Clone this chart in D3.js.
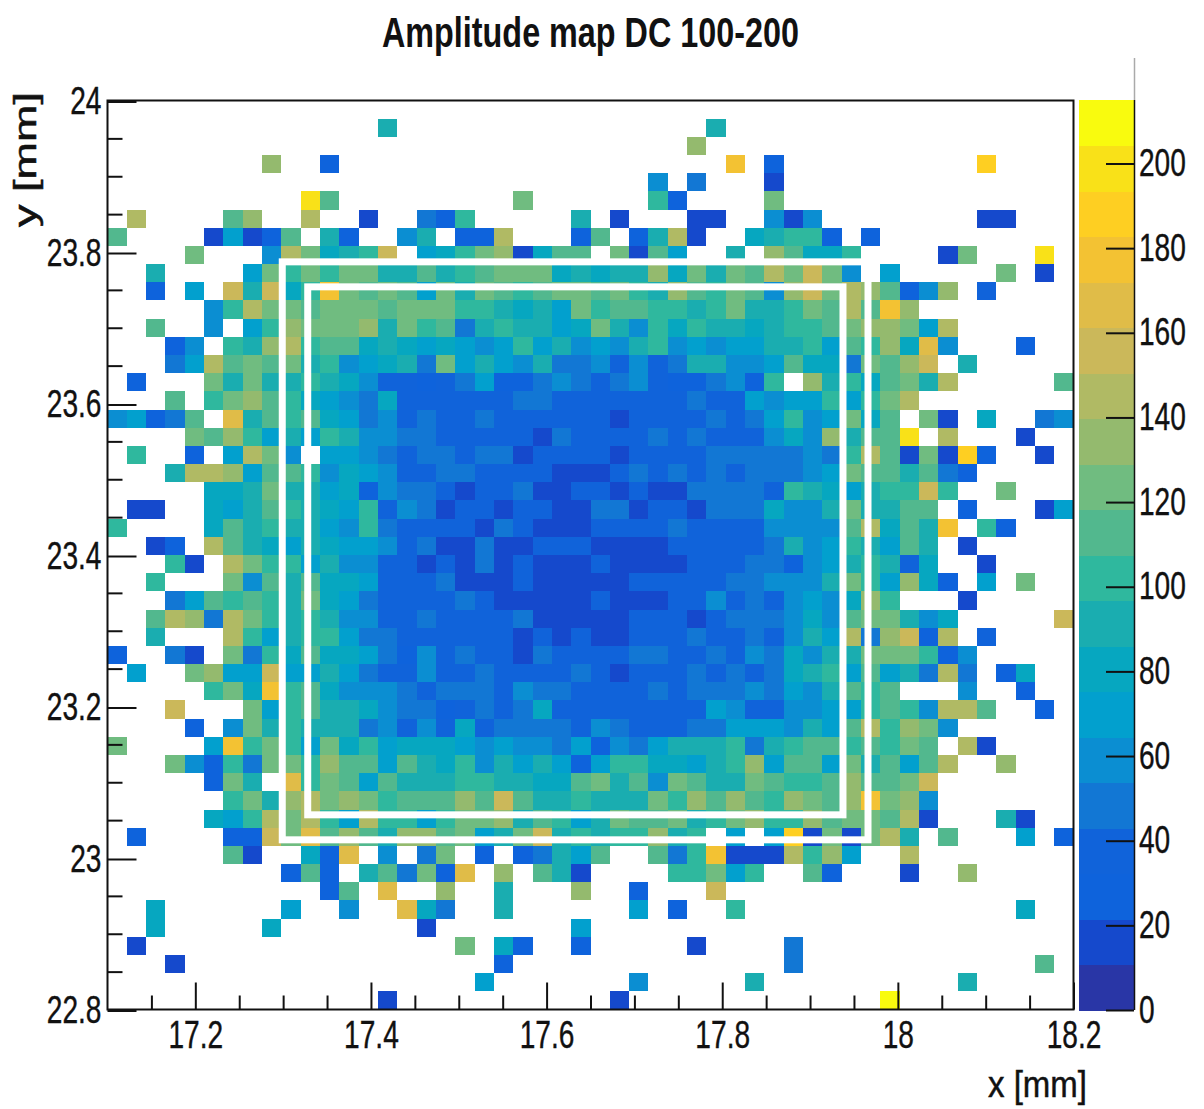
<!DOCTYPE html>
<html>
<head>
<meta charset="utf-8">
<script src="https://cdnjs.cloudflare.com/ajax/libs/d3/7.8.5/d3.min.js"></script>
<style>
  body { margin: 0; background: #fff; }
  text { font-family: "Liberation Sans", sans-serif; fill: #111; }
</style>
</head>
<body>
<div id="chart"></div>
<script>
// bin layout of the map
const xRange = [17.1, 18.2]
const yRange = [22.8, 24]
const binCount = 50
const zMax = 215

const xMajor = [17.2, 17.4, 17.6, 17.8, 18, 18.2]
const xMinor = [17.15, 17.25, 17.3, 17.35, 17.45, 17.5, 17.55, 17.65, 17.7, 17.75, 17.85, 17.9, 17.95, 18.05, 18.1, 18.15]
const yMajor = [22.8, 23, 23.2, 23.4, 23.6, 23.8, 24]
const yMinor = [22.85, 22.9, 22.95, 23.05, 23.1, 23.15, 23.25, 23.3, 23.35, 23.45, 23.5, 23.55, 23.65, 23.7, 23.75, 23.85, 23.9, 23.95]
const zTicks = [0, 20, 40, 60, 80, 100, 120, 140, 160, 180, 200]

// white boxes: [x0, x1, y0, y1] in mm
const outerBox = [17.299, 17.966, 23.024, 23.787]
const innerBox = [17.328, 17.9375, 23.057, 23.754]

const palette = ["#2936A6", "#1549CC", "#0E63DC", "#1063DA", "#1277D4", "#0B8ED2", "#02A0CE", "#06A7C0", "#1AADB0", "#2FB89E",
                 "#52B88E", "#70BC80", "#94BA6E", "#B0BA64", "#CBB85A", "#E0BC48", "#F3C233", "#FECF22", "#F9E118", "#F9FB0E"]

// amplitude per bin, top row (y = 24) first, 0 = empty bin
const amplitude = [
[0,0,0,0,0,0,0,0,0,0, 0,0,0,0,0,0,0,0,0,0, 0,0,0,0,0,0,0,0,0,0, 0,0,0,0,0,0,0,0,0,0, 0,0,0,0,0,0,0,0,0,0],
[0,0,0,0,0,0,0,0,0,0, 0,0,0,0,91,0,0,0,0,0, 0,0,0,0,0,0,0,0,0,0, 0,91,0,0,0,0,0,0,0,0, 0,0,0,0,0,0,0,0,0,0],
[0,0,0,0,0,0,0,0,0,0, 0,0,0,0,0,0,0,0,0,0, 0,0,0,0,0,0,0,0,0,0, 134,0,0,0,0,0,0,0,0,0, 0,0,0,0,0,0,0,0,0,0],
[0,0,0,0,0,0,0,0,134,0, 0,27,0,0,0,0,0,0,0,0, 0,0,0,0,0,0,0,0,0,0, 0,0,178,0,27,0,0,0,0,0, 0,0,0,0,0,188,0,0,0,0],
[0,0,0,0,0,0,0,0,0,0, 0,0,0,0,0,0,0,0,0,0, 0,0,0,0,0,0,0,0,59,0, 48,0,0,0,16,0,0,0,0,0, 0,0,0,0,0,0,0,0,0,0],
[0,0,0,0,0,0,0,0,0,0, 199,113,0,0,0,0,0,0,0,0, 0,124,0,0,0,0,0,0,102,27, 0,0,0,0,124,0,0,0,0,0, 0,0,0,0,0,0,0,0,0,0],
[0,145,0,0,0,0,113,134,0,0, 145,0,0,16,0,0,48,27,102,0, 0,0,0,0,91,0,16,0,0,0, 16,16,0,0,59,16,59,0,0,0, 0,0,0,0,0,16,16,0,0,0],
[113,0,0,0,0,16,70,16,27,113, 0,91,27,0,0,59,91,0,27,27, 145,0,0,0,27,113,0,27,91,145, 16,0,0,80,91,102,102,27,0,27, 0,0,0,0,0,0,0,0,0,0],
[0,0,0,0,124,0,0,0,59,145, 124,80,91,102,156,0,70,80,102,124, 134,16,80,113,113,0,124,16,113,70, 0,0,91,0,134,113,80,80,102,0, 0,0,0,16,124,0,0,0,199,0],
[0,0,91,0,0,0,0,70,124,102, 124,102,124,124,91,91,113,91,102,113, 124,124,124,80,91,80,91,91,134,80, 124,91,124,113,145,124,156,124,59,0, 70,0,0,0,0,0,124,0,16,0],
[0,0,27,0,70,0,156,91,156,80, 102,178,124,113,124,113,70,124,91,124, 113,102,113,124,124,113,124,102,91,134, 113,102,124,113,59,134,156,124,145,134, 113,27,59,134,0,38,0,0,0,0],
[0,0,0,0,0,59,102,145,124,124, 113,124,124,124,113,124,124,124,102,102, 91,80,91,70,124,102,113,113,102,102, 91,102,124,91,91,102,124,113,145,113, 178,134,0,0,0,0,0,0,0,0],
[0,0,113,0,0,59,0,70,102,134, 124,124,124,134,91,124,102,113,48,91, 102,91,91,70,80,124,91,59,102,80, 102,91,91,80,91,102,102,113,124,134, 134,124,70,145,0,0,0,0,0,0],
[0,0,0,27,59,0,102,91,134,145, 102,113,113,80,91,80,70,80,70,59, 70,102,70,91,59,70,59,91,102,59, 70,59,70,70,91,91,102,70,113,102, 134,80,167,59,0,0,0,27,0,0],
[0,0,0,48,70,145,113,124,113,124, 91,102,59,70,80,91,48,124,70,91, 70,59,91,48,48,59,38,59,38,48, 91,91,59,59,70,113,80,80,48,124, 113,134,156,0,91,0,0,0,0,0],
[0,27,0,0,0,124,91,124,91,91, 102,91,80,59,38,38,27,38,48,70, 27,27,48,59,48,38,48,59,38,27, 27,48,59,27,102,0,134,91,102,80, 113,124,91,145,0,0,0,0,0,113],
[0,0,0,113,0,102,124,134,113,102, 80,70,59,48,80,38,38,38,38,38, 38,48,48,38,38,38,38,38,38,38, 48,38,38,70,59,70,70,102,70,102, 124,145,0,0,0,0,0,0,0,0],
[59,70,27,48,113,0,167,91,113,102, 113,80,70,48,59,38,48,38,38,48, 38,38,38,38,38,38,16,38,38,38, 38,48,38,48,70,102,59,70,124,80, 113,0,124,16,0,80,0,0,48,59],
[0,0,0,0,124,113,134,102,70,91, 70,102,91,59,59,48,48,38,38,38, 38,38,16,48,38,38,38,38,48,38, 48,38,38,38,59,80,59,134,91,113, 113,199,0,145,0,0,0,16,0,0],
[0,102,0,0,27,0,70,145,124,59, 0,70,70,59,48,38,48,48,38,48, 48,16,38,38,38,38,16,38,38,38, 38,48,48,48,48,48,59,48,102,145, 113,16,124,16,188,27,0,0,16,0],
[0,0,0,91,145,145,134,70,113,113, 102,59,80,70,59,38,38,48,48,38, 38,38,38,16,16,16,38,48,38,48, 38,48,38,48,48,48,59,70,124,113, 113,91,113,48,27,0,0,0,0,0],
[0,0,0,0,0,80,80,91,124,91, 91,70,80,27,59,48,48,38,16,38, 38,48,16,16,38,38,16,38,16,16, 48,48,48,48,38,102,91,80,70,91, 102,102,156,102,0,0,124,0,0,0],
[0,16,16,0,0,80,70,91,113,102, 91,80,70,102,38,59,48,16,38,38, 16,38,38,16,16,48,48,16,38,38, 16,48,48,48,80,59,59,91,124,91, 91,113,113,0,27,0,0,0,16,70],
[102,0,0,0,0,80,113,91,102,91, 91,70,59,102,48,38,38,38,38,16, 48,38,16,16,16,38,38,38,38,48, 38,38,38,38,59,59,59,59,113,145, 80,113,91,178,0,102,27,0,0,0],
[0,0,16,27,0,145,113,91,80,70, 91,80,70,70,59,38,48,16,16,48, 16,16,38,38,38,16,16,16,16,38, 38,38,38,38,48,91,59,70,102,91, 70,113,91,0,16,0,0,0,0,0],
[0,0,0,102,16,0,145,124,102,102, 70,91,59,59,38,38,16,38,16,48, 16,38,16,16,16,38,16,16,16,16, 38,38,38,48,48,27,59,70,91,102, 91,38,80,0,0,16,0,0,0,0],
[0,0,102,0,0,0,124,59,113,91, 113,80,80,70,38,38,38,48,16,16, 16,38,16,16,16,16,16,38,38,38, 38,38,48,48,59,59,59,91,124,102, 70,134,80,27,0,70,0,124,0,0],
[0,0,0,48,70,113,102,113,102,91, 124,80,70,48,38,38,38,38,48,38, 16,16,16,16,16,38,16,16,16,38, 38,59,38,48,38,59,70,59,80,134, 102,0,0,0,16,0,0,0,0,0],
[0,0,113,145,134,48,145,124,102,91, 102,91,59,59,38,38,48,38,38,38, 38,48,16,16,16,16,16,38,38,38, 16,38,48,48,48,59,80,59,113,124, 124,91,59,80,0,0,0,0,0,156],
[0,0,91,0,0,0,145,102,70,91, 102,102,70,48,48,38,38,38,38,38, 38,16,38,16,38,16,16,38,38,38, 48,38,38,48,38,59,91,70,145,48, 134,156,27,145,0,38,0,0,0,0],
[27,0,0,48,16,0,124,48,102,80, 113,80,80,70,48,27,59,38,48,38, 38,16,48,38,38,38,38,48,48,38, 38,48,38,59,48,80,59,91,91,124, 124,124,102,27,59,0,0,0,0,0],
[0,70,0,0,124,134,70,70,156,70, 70,91,70,48,38,38,59,38,38,48, 38,38,38,38,48,38,16,38,38,38, 48,38,48,38,48,80,91,102,70,113, 70,91,48,145,48,0,27,80,0,0],
[0,0,0,0,0,102,124,80,178,102, 113,80,59,59,59,48,38,48,48,48, 38,59,48,48,38,38,38,38,48,38, 48,48,48,59,48,70,59,91,113,102, 113,0,0,0,59,0,0,27,0,0],
[0,0,0,156,0,0,0,124,70,102, 113,91,91,80,59,48,48,27,38,48, 38,48,80,38,38,38,38,38,38,38, 38,70,59,38,38,59,59,70,70,102, 113,102,59,145,145,113,0,0,27,0],
[0,0,0,0,27,0,59,124,91,102, 91,91,91,48,59,38,59,38,80,38, 48,48,48,48,38,59,48,38,38,38, 48,48,70,70,70,59,91,70,113,145, 102,134,124,59,0,0,0,0,0,0],
[124,0,0,0,0,70,178,102,124,102, 70,124,80,102,70,80,80,80,70,59, 70,59,59,48,70,27,59,48,70,91, 91,91,102,48,91,102,113,113,102,113, 102,124,113,0,145,16,0,0,0,0],
[0,0,0,124,59,27,102,48,124,124, 102,134,113,113,70,113,91,80,102,59, 91,70,91,70,27,70,102,102,80,80, 70,91,102,134,70,113,113,70,124,91, 113,70,113,145,0,0,134,0,0,0],
[0,0,0,0,0,27,124,91,0,167, 102,124,113,70,113,91,91,91,102,102, 91,91,80,80,113,124,91,113,59,124, 113,91,91,124,113,102,102,113,134,113, 113,124,156,0,0,0,0,0,0,0],
[0,0,0,0,0,0,102,124,91,134, 145,124,134,124,102,113,113,113,134,113, 156,113,91,91,102,91,91,91,124,102, 134,113,134,113,102,134,124,113,134,178, 124,134,59,0,0,0,0,0,0,0],
[0,0,0,0,0,80,70,102,145,124, 145,102,70,145,102,102,70,102,124,124, 134,91,113,102,70,91,124,113,113,124, 91,102,124,134,102,102,134,113,124,124, 113,145,16,0,0,0,91,16,0,0],
[0,27,0,0,0,0,27,27,156,124, 167,113,134,113,91,134,134,113,124,70, 91,124,156,91,102,91,102,102,134,91, 102,0,70,0,70,188,16,124,16,124, 145,91,0,113,0,0,0,70,0,27],
[0,0,0,0,0,0,113,16,0,0, 80,27,167,0,59,0,48,124,0,27, 0,27,48,91,70,113,0,0,113,48, 102,178,16,16,16,145,102,134,70,0, 0,145,0,0,0,0,0,0,0,0],
[0,0,0,0,0,0,0,0,0,27, 113,27,0,91,113,48,124,27,167,0, 134,0,113,91,16,0,0,0,0,102, 102,124,70,102,0,0,113,27,0,0, 0,16,0,0,134,0,0,0,0,0],
[0,0,0,0,0,0,0,0,0,0, 0,27,113,0,167,0,0,134,0,0, 91,0,0,0,134,0,0,27,0,0, 0,156,0,0,0,0,0,0,0,0, 0,0,0,0,0,0,0,0,0,0],
[0,0,80,0,0,0,0,0,0,70, 0,0,59,0,0,167,80,48,0,0, 91,0,0,0,0,0,0,70,0,27, 0,0,102,0,0,0,0,0,0,0, 0,0,0,0,0,0,0,80,0,0],
[0,0,80,0,0,0,0,0,80,0, 0,0,0,0,0,0,16,0,0,0, 0,0,0,0,70,0,0,0,0,0, 0,0,0,0,0,0,0,0,0,0, 0,0,0,0,0,0,0,0,0,0],
[0,16,0,0,0,0,0,0,0,0, 0,0,0,0,0,0,0,0,124,0, 80,27,0,0,27,0,0,0,0,0, 16,0,0,0,0,48,0,0,0,0, 0,0,0,0,0,0,0,0,0,0],
[0,0,0,16,0,0,0,0,0,0, 0,0,0,0,0,0,0,0,0,0, 27,0,0,0,0,0,0,0,0,0, 0,0,0,0,0,48,0,0,0,0, 0,0,0,0,0,0,0,0,113,0],
[0,0,0,0,0,0,0,0,0,0, 0,0,0,0,0,0,0,0,0,70, 0,0,0,0,0,0,0,59,0,0, 0,0,0,91,0,0,0,0,0,0, 0,0,0,0,91,0,0,0,0,0],
[0,0,0,0,0,0,0,0,0,0, 0,0,0,0,16,0,0,0,0,0, 0,0,0,0,0,0,16,0,0,0, 0,0,0,0,0,0,0,0,0,0, 210,0,0,0,0,0,0,0,0,0]
]

const width = 1204
const height = 1109
const squeeze = 0.74   // the source picture has narrow glyphs

let svg = d3.select("#chart").append("svg")
    .attr("width", width)
    .attr("height", height)

let x = d3.scaleLinear().domain(xRange).range([107.5, 1073.5])
let y = d3.scaleLinear().domain(yRange).range([1009.5, 100.5])
let z = d3.scaleLinear().domain([0, zMax]).range([1010, 100])
let color = d3.scaleQuantize().domain([0, zMax]).range(palette)

let xBin = (xRange[1] - xRange[0]) / binCount
let yBin = (yRange[1] - yRange[0]) / binCount

// cells
let cells = []
amplitude.forEach((row, r) => row.forEach((v, c) => {
    if (v > 0) cells.push({r: r, c: c, v: v})
}))

svg.append("g")
    .attr("shape-rendering", "crispEdges")
    .selectAll("rect")
    .data(cells)
    .enter()
    .append("rect")
    .attr("x", d => x(xRange[0] + d.c * xBin))
    .attr("y", d => y(yRange[1] - d.r * yBin))
    .attr("width", x(xRange[0] + xBin) - x(xRange[0]))
    .attr("height", y(yRange[1] - yBin) - y(yRange[1]))
    .style("fill", d => color(d.v))

// white boxes
svg.append("g")
    .selectAll("rect")
    .data([outerBox, innerBox])
    .enter()
    .append("rect")
    .attr("x", d => x(d[0]))
    .attr("y", d => y(d[3]))
    .attr("width", d => x(d[1]) - x(d[0]))
    .attr("height", d => y(d[2]) - y(d[3]))
    .style("fill", "none")
    .style("stroke", "#fff")
    .style("stroke-width", 7)

// plot frame
svg.append("rect")
    .attr("x", x.range()[0])
    .attr("y", y.range()[1])
    .attr("width", x.range()[1] - x.range()[0])
    .attr("height", y.range()[0] - y.range()[1])
    .style("fill", "none")
    .style("stroke", "#111")
    .style("stroke-width", 2)

function styleAxis(g, textX) {
    g.select(".domain").remove()
    g.selectAll("line").style("stroke", "#111").style("stroke-width", 2)
    g.selectAll("text")
        .style("font-size", "38px")
        .style("stroke", "#111")
        .style("stroke-width", 0.4)
        .attr("transform", `scale(${squeeze},1)`)
    if (textX !== null) g.selectAll("text").attr("x", textX / squeeze)
}

// minor ticks, then major ticks with labels
svg.append("g")
    .attr("transform", `translate(0,${y.range()[0]})`)
    .call(d3.axisBottom(x).tickValues(xMinor).tickSize(-14).tickFormat(""))
    .call(styleAxis, null)
svg.append("g")
    .attr("transform", `translate(0,${y.range()[0]})`)
    .call(d3.axisBottom(x).tickValues(xMajor).tickSize(-27).tickPadding(12).tickFormat(d => d))
    .call(styleAxis, null)
svg.append("g")
    .attr("transform", `translate(${x.range()[0]},0)`)
    .call(d3.axisLeft(y).tickValues(yMinor).tickSize(-15).tickFormat(""))
    .call(styleAxis, null)
svg.append("g")
    .attr("transform", `translate(${x.range()[0]},1)`)
    .call(d3.axisLeft(y).tickValues(yMajor).tickSize(-29).tickFormat(d => d))
    .call(styleAxis, -6)

// colour bar
let bandH = (z.range()[0] - z.range()[1]) / palette.length
svg.append("g")
    .attr("shape-rendering", "crispEdges")
    .selectAll("rect")
    .data(palette)
    .enter()
    .append("rect")
    .attr("x", 1079)
    .attr("y", (d, i) => z(color.invertExtent(d)[1]))
    .attr("width", 55)
    .attr("height", bandH + 0.5)
    .style("fill", d => d)

let zAxis = svg.append("g")
    .attr("transform", "translate(1134,0)")
    .call(d3.axisRight(z).tickValues(zTicks).tickSize(-28).tickPadding(5).tickFormat(d => d))
    .call(styleAxis, 5)

svg.append("line")
    .attr("x1", 1134.5).attr("x2", 1134.5)
    .attr("y1", z.range()[0]).attr("y2", z.range()[1])
    .style("stroke", "#111").style("stroke-width", 1.5)
svg.append("line")
    .attr("x1", 1134.5).attr("x2", 1134.5)
    .attr("y1", 58).attr("y2", z.range()[1])
    .style("stroke", "#aaa").style("stroke-width", 1.5)

// titles
svg.append("text")
    .attr("x", 382).attr("y", 47)
    .attr("textLength", 417).attr("lengthAdjust", "spacingAndGlyphs")
    .style("font-size", "43px").style("font-weight", "bold")
    .text("Amplitude map DC 100-200")

svg.append("text")
    .attr("x", 988).attr("y", 1097)
    .attr("textLength", 99).attr("lengthAdjust", "spacingAndGlyphs")
    .style("font-size", "37px")
    .style("stroke", "#111").style("stroke-width", 0.5)
    .text("x [mm]")

svg.append("text")
    .attr("transform", "translate(36,227) rotate(-90)")
    .attr("textLength", 135).attr("lengthAdjust", "spacingAndGlyphs")
    .style("font-size", "32px")
    .style("stroke", "#111").style("stroke-width", 0.5)
    .text("y [mm]")
</script>
</body>
</html>
